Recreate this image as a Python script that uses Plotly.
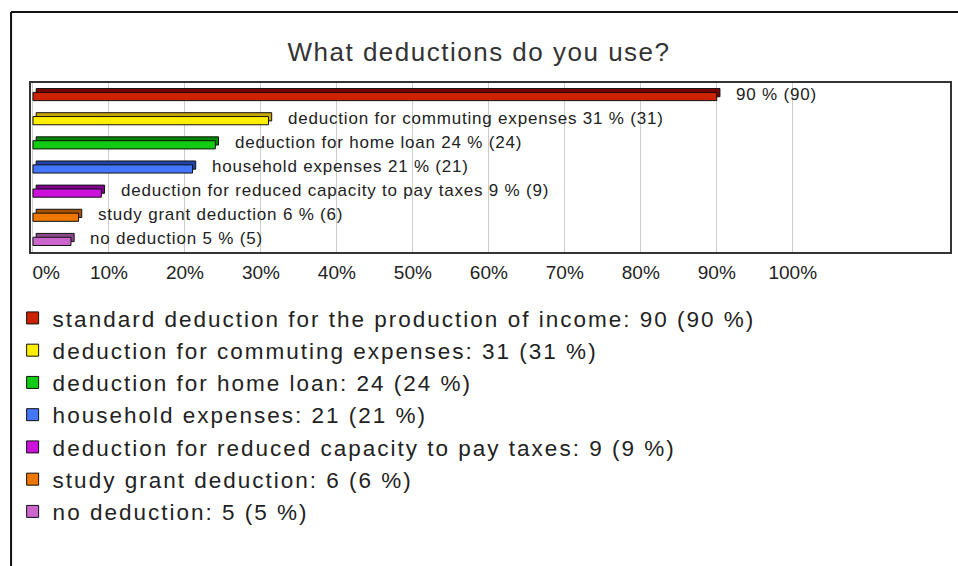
import plotly.graph_objects as go

# Survey answers, top to bottom
categories = [
    "standard deduction for the production of income",
    "deduction for commuting expenses",
    "deduction for home loan",
    "household expenses",
    "deduction for reduced capacity to pay taxes",
    "study grant deduction",
    "no deduction",
]
counts = [90, 31, 24, 21, 9, 6, 5]
percents = [90, 31, 24, 21, 9, 6, 5]
# Caption printed next to each bar (the longest bar carries only its numbers)
bar_captions = [
    "",
    "deduction for commuting expenses",
    "deduction for home loan",
    "household expenses",
    "deduction for reduced capacity to pay taxes",
    "study grant deduction",
    "no deduction",
]
front_colors = ["#cc2200", "#ffee00", "#11cc11", "#4477ff", "#cc11dd", "#ee7700", "#cc66cc"]
top_colors = ["#7a0000", "#c8a800", "#008800", "#2244aa", "#800090", "#a85200", "#8a4a8a"]
tick_values = [0, 10, 20, 30, 40, 50, 60, 70, 80, 90, 100]
tick_labels = ["\u00a0\u00a0\u00a0\u00a0\u00a00%", "10%", "20%", "30%", "40%",
               "50%", "60%", "70%", "80%", "90%", "100%"]

FONT = "Liberation Sans"
TEXT = "#222222"


def spaced(s, px):
    """Wrap text in a span with extra letter spacing."""
    return f'<span style="letter-spacing:{px}px">{s}</span>'


# pseudo-3D geometry (axis units)
DEPTH_X = 0.42      # sideways depth of the bar body, in percent
FRONT_W = 0.34      # thickness of the front face, in category units
DEPTH_Y = 0.16      # upward depth of the top face, in category units

fig = go.Figure()
positions = list(range(len(categories)))

for i, (cat, cnt, pct) in enumerate(zip(categories, counts, percents)):
    # darker back face, shifted up and to the right
    fig.add_trace(go.Bar(
        y=[positions[i]], x=[pct], base=[DEPTH_X], orientation="h",
        width=FRONT_W, offset=-FRONT_W / 2 + 0.06 - DEPTH_Y,
        marker=dict(color=top_colors[i], line=dict(color="#111111", width=1)),
        showlegend=False, hoverinfo="skip",
    ))
    # front face, carries the legend entry
    fig.add_trace(go.Bar(
        y=[positions[i]], x=[pct], base=[0], orientation="h",
        width=FRONT_W, offset=-FRONT_W / 2 + 0.06,
        marker=dict(color=front_colors[i], line=dict(color="#111111", width=1)),
        name=spaced(f"{cat}: {cnt} ({pct} %)", 2), legendgroup=cat,
    ))
    caption = bar_captions[i]
    text = f"{caption} {pct} % ({cnt})" if caption else f"{pct} % ({cnt})"
    fig.add_annotation(
        x=pct + DEPTH_X, y=positions[i], text=spaced(text, 0.8), showarrow=False,
        xanchor="left", yanchor="middle", xshift=14, yshift=1,
        font=dict(family=FONT, size=17, color=TEXT),
    )

fig.update_layout(
    width=958, height=566,
    margin=dict(l=30, r=6, t=83, b=314),
    paper_bgcolor="white", plot_bgcolor="white",
    barmode="overlay",
    font=dict(family=FONT, color=TEXT),
    title=dict(
        text=spaced("What deductions do you use?", 1.5),
        x=0.5, xanchor="center", xref="container",
        y=1 - 52 / 566, yanchor="middle", yref="container",
        font=dict(family=FONT, size=26, color="#333333"),
    ),
    xaxis=dict(
        range=[-0.26, 120.7], tickvals=tick_values, ticktext=tick_labels,
        showgrid=True, gridcolor="#cccccc", gridwidth=1, zeroline=False,
        showline=True, linecolor="#333333", linewidth=2, mirror=True,
        ticks="", ticklabelstandoff=2,
        tickfont=dict(family=FONT, size=19, color=TEXT),
    ),
    yaxis=dict(
        range=[6.5, -0.5], showticklabels=False, showgrid=False, zeroline=False,
        showline=True, linecolor="#333333", linewidth=2, mirror=True, ticks="",
    ),
    legend=dict(
        x=-0.02, xanchor="left", y=-0.265, yanchor="top",
        traceorder="normal",
        font=dict(family=FONT, size=22.5, color=TEXT),
        bgcolor="rgba(0,0,0,0)", borderwidth=0,
    ),
    showlegend=True,
)

# outer frame: top and left edges
fig.add_shape(type="line", xref="paper", yref="paper",
              x0=(10 - 30) / 922, x1=1.01, y0=(252 - 12) / 169, y1=(252 - 12) / 169,
              line=dict(color="#111111", width=2))
fig.add_shape(type="line", xref="paper", yref="paper",
              x0=(10 - 30) / 922, x1=(10 - 30) / 922, y0=(252 - 12) / 169, y1=(252 - 570) / 169,
              line=dict(color="#111111", width=2))

fig.write_html("out.html")
